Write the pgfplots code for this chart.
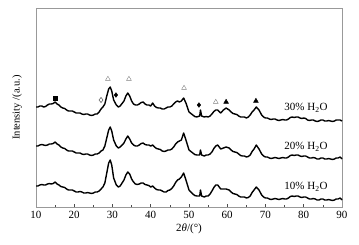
\documentclass[border=0pt]{standalone}
\usepackage{fontspec}
\setmainfont{Liberation Serif}
\usepackage{pgfplots}
\pgfplotsset{compat=1.18}
\begin{document}
\begin{tikzpicture}
\path[use as bounding box] (-36pt,-37pt) rectangle (323pt,207pt);
\begin{axis}[
    width=306pt, height=199pt, scale only axis,
    xmin=10, xmax=90, ymin=8, ymax=207, y dir=reverse,
    ytick=\empty,
    xtick={10,20,...,90}, minor x tick num=1,
    tick pos=bottom, tick align=inside,
    major tick length=3pt, minor tick length=2pt,
    axis line style={gray!80, line width=0.6pt},
    tick style={black!70, line width=0.5pt},
    /pgf/number format/assume math mode=true,
    ticklabel style={font=\fontsize{11}{12}\selectfont},
    xticklabel style={yshift=-1pt},
    xlabel={2\textit{θ}/(°)},
    xlabel style={font=\fontsize{11}{12}\selectfont, yshift=2pt},
    clip=false,
]
% 30% H2O (values in pixel rows, top = small)
\addplot[black, line width=1.4pt, line join=round] coordinates {
(10,107) (10.5,107) (11,106) (11.5,106) (12,107) (12.5,106.5) (13,105) (13.5,104) (14,104) (14.5,103.5)
(15,102) (15.5,104) (16,105) (16.5,107) (17,108) (17.5,108.5) (18,110) (18.5,111) (19,111) (19.5,111)
(20,112) (20.5,113) (21,113) (21.5,113) (22,114) (22.5,114.5) (23,114) (23.5,114) (24,115) (24.5,115.5)
(25,115) (25.5,114) (26,114) (26.5,112) (27,109) (27.5,107)
(28,104) (28.5,96) (29,89) (29.4,87) (29.8,91) (30.3,100) (31,105) (31.5,107) (32,106) (33,101)
(33.5,96) (34,93) (34.5,96) (35,101) (35.5,104) (36,105) (36.5,105) (37,104) (37.5,102.5) (38,102)
(38.5,104) (39,105) (39.5,105) (40,106)
(40.5,103) (41,106) (41.5,107.5) (42,108) (42.5,108) (43,109) (43.5,109) (44,108) (44.5,107) (45,107)
(45.5,106) (46,104) (46.5,102) (47,101) (47.5,102) (48,101)
(48.6,98) (49.2,103) (50,112) (51,115) (51.5,116.5) (52,117) (52.8,116) (53,110) (53.3,116) (54,117)
(54.5,116.5) (55,117) (55.5,116) (56,114) (56.5,111.5) (57,110) (57.5,110) (58.3,113) (59,110) (59.7,108)
(60.5,110) (61,112) (61.5,113.5) (62,114) (62.5,114.5) (63,116) (63.5,117) (64,117) (64.5,117) (65,118)
(65.5,117) (66,115) (66.5,112) (67,110) (67.6,107) (68.3,110) (69,115) (69.5,117) (70,118) (70.5,118)
(71,119) (71.5,119.5) (72,119) (72.5,119) (73,120) (73.5,120.5) (74,120) (74.5,119.5) (75,120) (75.5,120)
(76,119) (76.5,117.5) (77,117) (77.5,117.5) (78,117) (78.5,117) (79,118) (79.5,118.5) (80,118) (80.5,118.5)
(81,120) (81.5,120.5) (82,120) (82.5,120) (83,121) (83.5,121.5) (84,121) (84.5,120) (85,120) (85.5,121)
(86,121) (86.5,120.5) (87,121) (87.5,121.5) (88,121) (88.5,120) (89,120) (89.5,120) (90,121)};
% 20% H2O
\addplot[black, line width=1.4pt, line join=round] coordinates {
(10,146) (10.5,146) (11,145) (11.5,144.5) (12,145) (12.5,145.5) (13,145) (13.5,144) (14,144) (14.5,143.5)
(15,142) (15.5,144) (16,145) (16.5,147) (17,148) (17.5,148.5) (18,150) (18.5,151) (19,151) (19.5,151)
(20,152) (20.5,153) (21,153) (21.5,153) (22,154) (22.5,154.5) (23,154) (23.5,154) (24,155) (24.5,155.5)
(25,155) (25.5,154) (26,154) (26.5,153) (27,151) (27.5,150) (28,146)
(28.5,138) (29,130) (29.4,127) (29.8,131) (30.3,140) (31,146) (31.5,148) (32,147) (33,143) (33.5,139)
(34,136) (34.5,139) (35,143) (35.5,145) (36,146) (36.5,146) (37,145) (37.5,143.5) (38,143) (38.5,144.5)
(39,145) (39.5,145) (40,146) (40.5,145)
(41,147) (41.5,148.5) (42,149) (42.5,149.5) (43,151) (43.5,151.5) (44,151) (44.5,150) (45,150) (45.5,149)
(46,147) (46.5,144) (47,142) (47.5,141) (48,140) (48.6,133)
(49.2,140) (50,150) (51,153) (51.5,154.5) (52,155) (52.8,155) (53,150) (53.3,155) (54,156) (54.5,155)
(55,155) (55.5,154) (56,152) (56.5,148.5)
(57,146) (57.5,145) (58.3,149) (59,148) (59.7,147) (60.5,148) (61,150) (61.5,151.5) (62,152) (62.5,152.5)
(63,154) (63.5,155.5) (64,156) (64.5,156)
(65,157) (65.5,156.5) (66,155) (66.5,151.5) (67,149) (67.6,145) (68.3,149) (69,154) (69.5,156) (70,157)
(70.5,157) (71,158) (71.5,158.5) (72,158) (72.5,157.5) (73,158) (73.5,158.5)
(74,158) (74.5,157.5) (75,158) (75.5,158) (76,157) (76.5,155.5) (77,155) (77.5,155.5) (78,155) (78.5,155)
(79,156) (79.5,156.5) (80,156) (80.5,156) (81,157) (81.5,158) (82,158) (82.5,157.5) (83,158) (83.5,159)
(84,159) (84.5,158) (85,158) (85.5,159) (86,159) (86.5,158.5) (87,159) (87.5,159.5) (88,159) (88.5,158)
(89,158) (89.5,157) (90,159)};
% 10% H2O
\addplot[black, line width=1.4pt, line join=round] coordinates {
(10,186) (10.5,186) (11,185) (11.5,184.5) (12,185) (12.5,185) (13,184) (13.5,183.5) (14,184) (14.5,183.5)
(15,182) (15.5,184) (16,185) (16.5,186.5) (17,187) (17.5,187.5) (18,189) (18.5,190) (19,190) (19.5,190)
(20,191) (20.5,192) (21,192) (21.5,191.5) (22,192) (22.5,193) (23,193) (23.5,192.5) (24,193) (24.5,193.5)
(25,193) (25.5,192) (26,192) (26.5,191) (27,189) (27.5,187) (28,183)
(28.5,173) (29,163) (29.4,160) (29.8,165) (30.3,178) (31,185) (31.5,187) (32,186) (33,180) (33.5,175)
(34,172) (34.5,174) (35,179) (35.5,182) (36,184) (36.5,184.5) (37,184) (37.5,183) (38,183) (38.5,184.5)
(39,185) (39.5,185.5) (40,187) (40.5,186)
(41,188) (41.5,189.5) (42,190) (42.5,190) (43,191) (43.5,192) (44,192) (44.5,190.5) (45,190) (45.5,188.5)
(46,186) (46.5,182.5) (47,180) (47.5,179) (48,177) (48.6,173)
(49.2,180) (50,190) (51,194) (51.5,195.5) (52,196) (52.8,196) (53,190) (53.3,196) (54,197) (54.5,196)
(55,196) (55.5,194) (56,191) (56.5,187.5)
(57,185) (57.5,185) (58.3,189) (59,189) (59.7,189) (60.5,190) (61,192) (61.5,193.5) (62,194) (62.5,194.5)
(63,196) (63.5,197) (64,197) (64.5,197)
(65,198) (65.5,197.5) (66,196) (66.5,192.5) (67,190) (67.6,187) (68.3,190) (69,195) (69.5,197) (70,198)
(70.5,198) (71,199) (71.5,199.5) (72,199) (72.5,198.5) (73,199) (73.5,199.5)
(74,199) (74.5,198.5) (75,199) (75.5,199) (76,198) (76.5,196.5) (77,196) (77.5,196.5) (78,196) (78.5,196)
(79,197) (79.5,197.5) (80,197) (80.5,197) (81,198) (81.5,199) (82,199) (82.5,198.5) (83,199) (83.5,200)
(84,200) (84.5,199) (85,199) (85.5,200) (86,200) (86.5,199.5) (87,200) (87.5,200.5) (88,200) (88.5,199)
(89,199) (89.5,198) (90,200)};
% phase markers
\addplot[only marks, mark=square*, black, mark size=2.2pt] coordinates {(15,98)};
\addplot[only marks, mark=diamond, black!60, mark size=2.6pt, mark options={line width=0.6pt}] coordinates {(27,100)};
\addplot[only marks, mark=triangle, gray, mark size=2.8pt] coordinates {(28.8,79) (34.3,79) (48.7,88) (57.0,102)};
\addplot[only marks, mark=diamond*, black, mark size=2.4pt] coordinates {(30.9,95) (52.6,105)};
\addplot[only marks, mark=triangle*, black, mark size=2.8pt] coordinates {(59.7,102) (67.5,101)};
\node[font=\fontsize{11}{12}\selectfont] at (axis cs:80.6,108) {30\% H\textsubscript{2}O};
\node[font=\fontsize{11}{12}\selectfont] at (axis cs:80.6,147) {20\% H\textsubscript{2}O};
\node[font=\fontsize{11}{12}\selectfont] at (axis cs:80.6,187) {10\% H\textsubscript{2}O};
\node[rotate=90, font=\fontsize{10.5}{12}\selectfont] at (axis description cs:-0.062,0.5) {Intensity /(a.u.)};
\end{axis}
\end{tikzpicture}
\end{document}
